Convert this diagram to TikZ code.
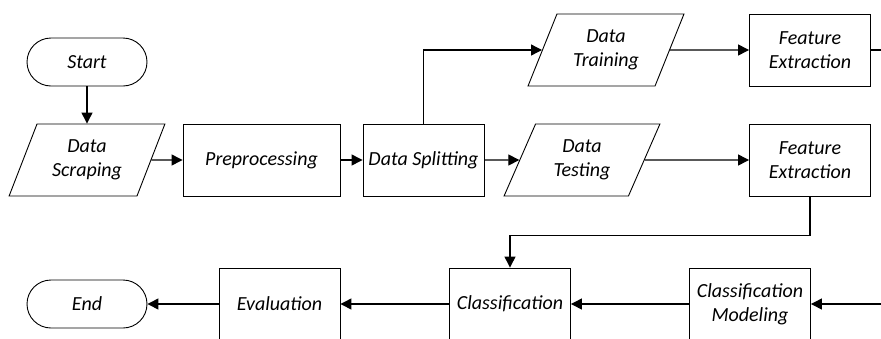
\documentclass[tikz,border=0pt]{standalone}
\usepackage{fontspec}
\setmainfont{Carlito}
\usetikzlibrary{shapes.geometric,arrows.meta}

\begin{document}
\begin{tikzpicture}[x=1pt,y=-1pt,font=\fontsize{20}{24}\selectfont\itshape]
        %
        % `terminal' is used for Start and End.
        % `process' is used for the plain steps (boxes).
        % `data' is used for the input/output steps (parallelograms).
        % `flow' is used for the connectors.
        \tikzstyle{terminal} = [draw,line width=0.9pt,rounded corners=24pt,minimum width=120pt,minimum height=48pt,inner sep=2pt]
        \tikzstyle{process} = [draw,line width=0.9pt,minimum width=121pt,minimum height=72pt,inner sep=2pt,align=center]
        \tikzstyle{data} = [draw,line width=0.9pt,trapezium,trapezium left angle=65,trapezium right angle=115,trapezium stretches=true,minimum width=156pt,minimum height=72pt,inner sep=2pt,align=center]
        \tikzstyle{flow} = [line width=1.3pt,-{Triangle[length=11pt,width=11pt]}]
        %
        % Visible window
        \clip (0,0) rectangle (881,338);
        %
        % Row 1
        \node[terminal] (start) at (87,62) {Start};
        \node[data] (train) at (606,50) {Data\\Training};
        \node[process] (feat1) at (810,50) {Feature\\Extraction};
        \coordinate (out1) at (900,50);
        %
        % Row 2
        \node[data] (scrap) at (87,160) {Data\\Scraping};
        \node[process,minimum width=157pt] (prep) at (261.5,160) {Preprocessing};
        \node[process] (split) at (423.5,160) {Data Splitting};
        \node[data] (test) at (582,160) {Data\\Testing};
        \node[process] (feat2) at (810,160) {Feature\\Extraction};
        %
        % Row 3
        \node[terminal] (end) at (87,304) {End};
        \node[process] (eval) at (279.5,304) {Evaluation};
        \node[process] (class) at (510,304) {Classification};
        \node[process] (model) at (750,304) {Classification\\Modeling};
        \coordinate (in1) at (900,304);
        %
        % Connectors
        \draw[flow] (start) -- (scrap);
        \draw[flow] (scrap) -- (prep);
        \draw[flow] (prep) -- (split);
        \draw[flow] (split.north) |- (train.west);
        \draw[flow] (train) -- (feat1);
        \draw[line width=1.3pt] (feat1.east) -- (out1);
        \draw[flow] (split) -- (test);
        \draw[flow] (test) -- (feat2);
        \draw[flow] (feat2.south) -- ++(0,39) -| (class.north);
        \draw[flow] (in1) -- (model.east);
        \draw[flow] (model) -- (class);
        \draw[flow] (class) -- (eval);
        \draw[flow] (eval) -- (end);
        %
        \end{tikzpicture}
\end{document}
